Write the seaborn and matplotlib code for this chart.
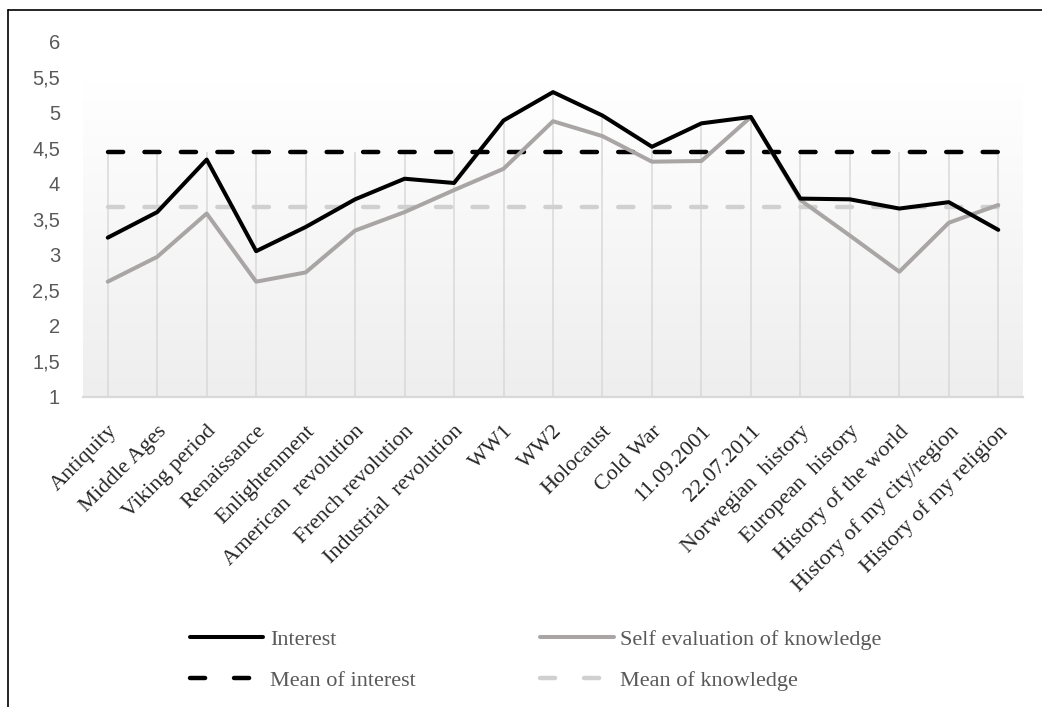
import numpy as np
import pandas as pd
import seaborn as sns
import matplotlib.pyplot as plt
from matplotlib.lines import Line2D
from matplotlib.ticker import FuncFormatter, MultipleLocator
from matplotlib.colors import LinearSegmentedColormap

topics = ["Antiquity", "Middle Ages", "Viking period", "Renaissance", "Enlightenment",
          "American  revolution", "French revolution", "Industrial  revolution", "WW1", "WW2",
          "Holocaust", "Cold War", "11.09.2001", "22.07.2011", "Norwegian  history",
          "European  history", "History of the world", "History of my city/region",
          "History of my religion"]
interest = [3.24, 3.60, 4.34, 3.05, 3.39, 3.78, 4.07, 4.01, 4.89, 5.29,
            4.96, 4.52, 4.85, 4.94, 3.79, 3.78, 3.65, 3.74, 3.35]
knowledge = [2.62, 2.97, 3.58, 2.62, 2.75, 3.34, 3.60, 3.91, 4.21, 4.88,
             4.67, 4.31, 4.32, 4.94, 3.77, 3.27, 2.76, 3.45, 3.70]
mean_interest = 4.45
mean_knowledge = 3.67

n = len(topics)
df = pd.DataFrame({"topic": topics, "interest": interest, "knowledge": knowledge,
                   "mean_interest": [mean_interest] * n, "mean_knowledge": [mean_knowledge] * n})

sns.set_style("white")
fig = plt.figure(figsize=(10.42, 7.07), dpi=100)
ax = fig.add_axes([83 / 1042, 1 - 396.7 / 707, (1023 - 83) / 1042, (396.7 - 41.7) / 707])

# plot area gradient (white at top, light grey at bottom)
cmap = LinearSegmentedColormap.from_list("bg", ["#ffffff", "#eeeeee"])
ax.imshow(np.linspace(0, 1, 256).reshape(-1, 1), cmap=cmap, aspect="auto",
          extent=(-0.5, n - 0.5, 1, 5.45), zorder=0)

# drop lines up to the highest series at each category
tops = df[["interest", "knowledge", "mean_interest", "mean_knowledge"]].max(axis=1)
ax.vlines(range(n), 1, tops, color="#d9d9d9", lw=1.1, zorder=1)

dash = (0, (3.4, 4.8))
sns.lineplot(data=df, x="topic", y="mean_knowledge", ax=ax, color="#d0d0d0", lw=3.2,
             linestyle=dash, dash_capstyle="round", zorder=2)
sns.lineplot(data=df, x="topic", y="mean_interest", ax=ax, color="black", lw=3.2,
             linestyle=dash, dash_capstyle="round", zorder=2)
sns.lineplot(data=df, x="topic", y="knowledge", ax=ax, color="#a9a5a5", lw=2.9, zorder=3)
sns.lineplot(data=df, x="topic", y="interest", ax=ax, color="black", lw=2.9, zorder=4)

ax.set_xlim(-0.5, n - 0.5)
ax.set_ylim(1, 6)
ax.yaxis.set_major_locator(MultipleLocator(0.5))
ax.yaxis.set_major_formatter(FuncFormatter(lambda v, p: f"{v:g}".replace(".", ",")))
ax.set_xlabel("")
ax.set_ylabel("")
for s in ["top", "right", "left"]:
    ax.spines[s].set_visible(False)
ax.spines["bottom"].set_color("#d9d9d9")
ax.spines["bottom"].set_linewidth(1.6)
ax.tick_params(axis="both", length=0)
ax.tick_params(axis="y", pad=16.5, labelsize=14.5, labelcolor="#595959")
ax.tick_params(axis="x", pad=18)
for lab in ax.get_yticklabels():
    lab.set_fontfamily("Liberation Sans")
for lab in ax.get_xticklabels():
    lab.set_rotation(45)
    lab.set_ha("right")
    lab.set_va("top")
    lab.set_rotation_mode("anchor")
    lab.set_fontfamily("Liberation Serif")
    lab.set_fontsize(16)
    lab.set_color("#262626")

leg_dash = (0, (3.4, 6.5))
handles = [
    Line2D([], [], color="black", lw=2.9),
    Line2D([], [], color="black", lw=3.2, linestyle=leg_dash, dash_capstyle="round"),
    Line2D([], [], color="#a9a5a5", lw=2.9),
    Line2D([], [], color="#d0d0d0", lw=3.2, linestyle=leg_dash, dash_capstyle="round"),
]
labels = ["Interest", "Mean of interest", "Self evaluation of knowledge", "Mean of knowledge"]
fig.legend(handles, labels, ncol=2, loc="upper left", bbox_to_anchor=(190 / 1042, 1 - 629 / 707),
           frameon=False, borderpad=0, borderaxespad=0, handlelength=3.3, handletextpad=0.3,
           columnspacing=5.6, labelspacing=0.95, labelcolor="#595959",
           prop={"family": "Liberation Serif", "size": 16})

# outer frame
fig.add_artist(Line2D([8 / 1042, 1], [1 - 10 / 707] * 2, transform=fig.transFigure, color="black", lw=1.2))
fig.add_artist(Line2D([8 / 1042] * 2, [0, 1 - 10 / 707], transform=fig.transFigure, color="black", lw=1.2))

fig.savefig("out.png", dpi=100)
